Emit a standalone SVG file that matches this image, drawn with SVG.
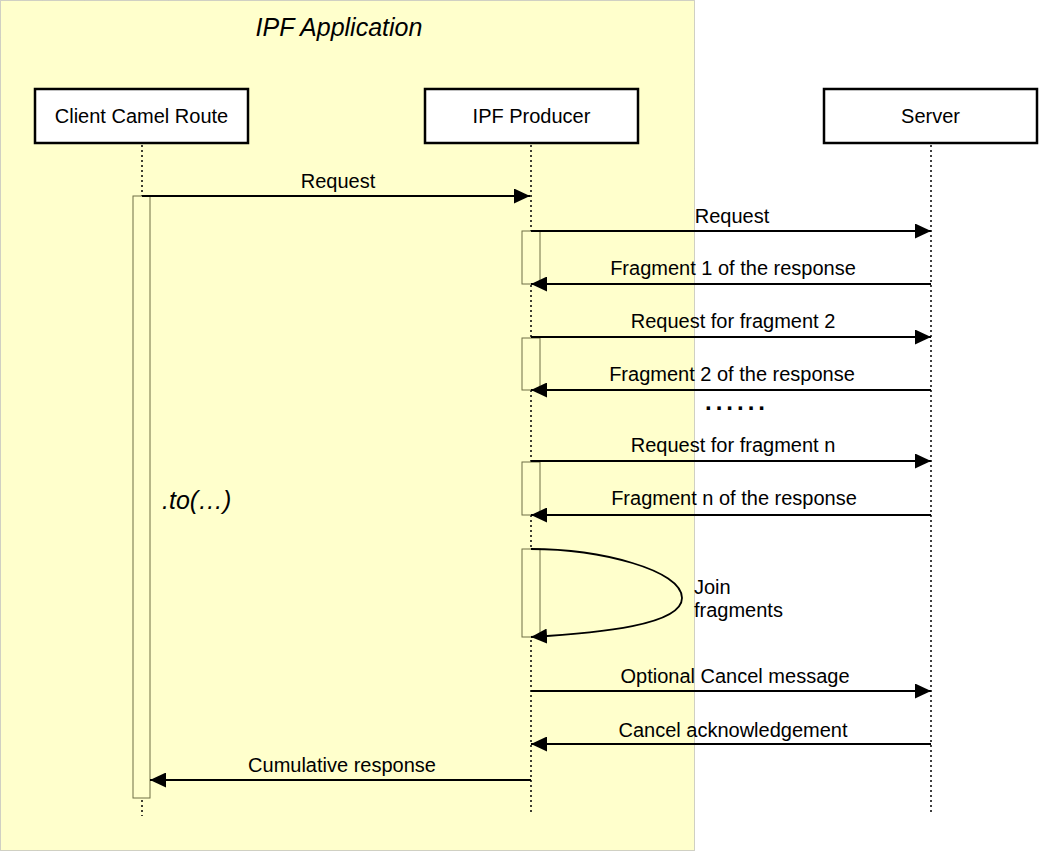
<svg xmlns="http://www.w3.org/2000/svg" width="1039" height="852" viewBox="0 0 1039 852">
<style>
text{font-family:"Liberation Sans",Arial,sans-serif;font-size:20px;fill:#000}
.c{text-anchor:middle}
.box{fill:#fff;stroke:#000;stroke-width:2.5}
.life{stroke:#000;stroke-width:1.5;stroke-dasharray:2,3;fill:none}
.act{fill:#ffffcc;stroke:#6f6f45;stroke-width:1}
.msg{stroke:#000;stroke-width:1.8;fill:none;marker-end:url(#ah)}
</style>
<defs>
<marker id="ah" viewBox="0 0 16 15" refX="16" refY="7.5" markerWidth="16" markerHeight="15" markerUnits="userSpaceOnUse" orient="auto">
<path d="M0,0 L16,7.5 L0,15 z" fill="#000"/>
</marker>
</defs>
<rect width="1039" height="852" fill="#fff"/>
<g id="ipf-application">
<rect x="0.5" y="0.5" width="694" height="850" fill="#ffffcc" stroke="#a0a0a0" stroke-width="1" stroke-dasharray="1,1"/>
<text x="339" y="36" class="c" style="font-size:25px;font-style:italic">IPF Application</text>
</g>
<g id="lifelines">
<line class="life" x1="142" y1="145" x2="142" y2="816"/>
<line class="life" x1="531" y1="145" x2="531" y2="812"/>
<line class="life" x1="931" y1="145" x2="931" y2="812"/>
</g>
<g id="client">
<rect class="box" x="35" y="89" width="213" height="54"/>
<text x="141.5" y="123" class="c">Client Camel Route</text>
</g>
<g id="producer">
<rect class="box" x="425" y="89" width="213" height="54"/>
<text x="531.5" y="123" class="c">IPF Producer</text>
</g>
<g id="server">
<rect class="box" x="824" y="89" width="213" height="54"/>
<text x="930.5" y="123" class="c">Server</text>
</g>
<g id="activations">
<rect class="act" x="133" y="196" width="17" height="602"/>
<rect class="act" x="522" y="231" width="18" height="53"/>
<rect class="act" x="522" y="338" width="18" height="52"/>
<rect class="act" x="522" y="462" width="18" height="53"/>
<rect class="act" x="522" y="549" width="18" height="88"/>
</g>
<g id="connectors">
<line class="msg" x1="142" y1="196" x2="530" y2="196"/>
<line class="msg" x1="531" y1="231" x2="931" y2="231"/>
<line class="msg" x1="931" y1="284" x2="531" y2="284"/>
<line class="msg" x1="531" y1="337" x2="931" y2="337"/>
<line class="msg" x1="931" y1="390" x2="531" y2="390"/>
<line class="msg" x1="531" y1="461" x2="931" y2="461"/>
<line class="msg" x1="931" y1="515" x2="531" y2="515"/>
<path class="msg" d="M531,549 C600,549 682,570 682,598 C682,625 600,633 531,637"/>
<line class="msg" x1="531" y1="691" x2="931" y2="691"/>
<line class="msg" x1="931" y1="744" x2="531" y2="744"/>
<line class="msg" x1="531" y1="780" x2="150" y2="780"/>
</g>
<g id="labels">
<text x="338" y="188" class="c">Request</text>
<text x="732" y="223" class="c">Request</text>
<text x="733" y="275" class="c">Fragment 1 of the response</text>
<text x="733" y="328" class="c">Request for fragment 2</text>
<text x="732" y="381" class="c">Fragment 2 of the response</text>
<text x="737" y="410" class="c" style="font-size:24px;font-weight:bold;letter-spacing:4px">......</text>
<text x="733" y="452" class="c">Request for fragment n</text>
<text x="734" y="505" class="c">Fragment n of the response</text>
<text x="694" y="594">Join</text>
<text x="694" y="617">fragments</text>
<text x="735" y="683" class="c">Optional Cancel message</text>
<text x="733" y="737" class="c">Cancel acknowledgement</text>
<text x="342" y="772" class="c">Cumulative response</text>
<text x="162" y="509" style="font-size:25px;font-style:italic">.to(…)</text>
</g>
</svg>
